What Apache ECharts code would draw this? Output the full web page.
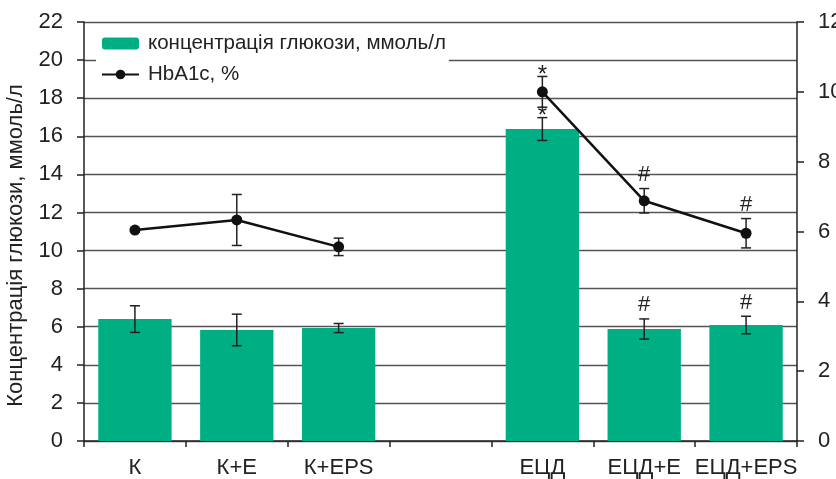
<!DOCTYPE html>
<html><head><meta charset="utf-8">
<script src="https://cdn.jsdelivr.net/npm/echarts@6/dist/echarts.min.js"></script>
<style>html,body{margin:0;padding:0;background:#fff}#c{width:836px;height:479px}</style>
</head><body><div id="c"></div>
<script>
const categories = ['К', 'К+Е', 'К+EPS', '', 'ЕЦД', 'ЕЦД+Е', 'ЕЦД+EPS'];
const glucose = [6.4, 5.83, 5.93, null, 16.38, 5.88, 6.09];
const glucoseErr = [0.7, 0.83, 0.24, null, 0.6, 0.53, 0.46];
const hba1c = [6.04, 6.33, 5.56, null, 10.0, 6.88, 5.95];
const hba1cErr = [0.05, 0.73, 0.25, null, 0.44, 0.35, 0.42];
const glucoseMarks = ['', '', '', '', '*', '#', '#'];
const hba1cMarks = ['', '', '', '', '*', '#', '#'];
const leftAxis = { min: 0, max: 22, interval: 2 };
const rightAxis = { min: 0, max: 12, interval: 2 };
const glucoseName = 'концентрація глюкози, ммоль/л';
const hbName = 'HbA1c, %';
const yTitle = 'Концентрація глюкози, ммоль/л';

const FONT = '"Liberation Sans", Arial, sans-serif';
const GREEN = '#00AE84';
const INK = '#222';

function errItems(vals, errs) {
  const out = [];
  vals.forEach((v, i) => { if (v != null) out.push([i, v, errs[i]]); });
  return out;
}
function errRender(cap, marks) {
  return function (params, api) {
    const i = api.value(0), v = api.value(1), e = api.value(2);
    const mark = marks[i];
    const hi = api.coord([i, v + e]);
    const lo = api.coord([i, v - e]);
    const st = { stroke: INK, lineWidth: 1.5 };
    const children = [
      { type: 'line', shape: { x1: hi[0], y1: hi[1], x2: lo[0], y2: lo[1] }, style: st },
      { type: 'line', shape: { x1: hi[0] - cap, y1: hi[1], x2: hi[0] + cap, y2: hi[1] }, style: st },
      { type: 'line', shape: { x1: lo[0] - cap, y1: lo[1], x2: lo[0] + cap, y2: lo[1] }, style: st }
    ];
    if (mark) {
      const big = mark === '*';
      children.push({ type: 'text', style: { text: mark, x: hi[0], y: hi[1] + (big ? 11 : -2.5), align: 'center', verticalAlign: 'bottom', fontSize: big ? 24 : 22, fontFamily: FONT, fill: INK } });
    }
    return { type: 'group', children };
  };
}

const chart = echarts.init(document.getElementById('c'));
chart.setOption({
  animation: false,
  backgroundColor: '#fff',
  grid: { left: 84, right: 39, top: 22, bottom: 38, containLabel: false, outerBoundsMode: 'none' },
  legend: {
    data: [glucoseName, hbName],
    orient: 'vertical', left: 96, top: 27,
    padding: [6, 3, 8, 5], itemGap: 10,
    itemWidth: 37, itemHeight: 12,
    backgroundColor: '#fff',
    textStyle: { fontSize: 20.5, fontFamily: FONT, color: INK, padding: [0, 0, 0, 4] }
  },
  xAxis: {
    type: 'category', data: categories,
    axisLine: { lineStyle: { color: INK, width: 1.5 } },
    axisTick: { show: true, length: 6, lineStyle: { color: INK, width: 1.5 } },
    axisLabel: { interval: 0, fontSize: 22, fontFamily: FONT, color: INK, margin: 16 }
  },
  yAxis: [
    {
      type: 'value', min: leftAxis.min, max: leftAxis.max, interval: leftAxis.interval,
      name: yTitle, nameLocation: 'middle', nameGap: 57,
      nameTextStyle: { fontSize: 22, fontFamily: FONT, color: INK, padding: [0, 28, 0, 0] },
      axisLine: { show: true, lineStyle: { color: INK, width: 1.5 } },
      axisTick: { show: true, length: 7, lineStyle: { color: INK, width: 1.5 } },
      axisLabel: { fontSize: 22, fontFamily: FONT, color: INK, margin: 21 },
      splitLine: { show: true, lineStyle: { color: '#555', width: 1.3 } }
    },
    {
      type: 'value', min: rightAxis.min, max: rightAxis.max, interval: rightAxis.interval,
      position: 'right',
      axisLine: { show: true, lineStyle: { color: INK, width: 1.5 } },
      axisTick: { show: true, length: 7, lineStyle: { color: INK, width: 1.5 } },
      axisLabel: { fontSize: 22, fontFamily: FONT, color: INK, margin: 21 },
      splitLine: { show: false }
    }
  ],
  series: [
    {
      name: glucoseName, type: 'bar', yAxisIndex: 0,
      data: glucose.map(v => v == null ? '-' : v),
      barWidth: '72%', itemStyle: { color: GREEN }, z: 2
    },
    {
      name: 'gErr', type: 'custom', yAxisIndex: 0, z: 3,
      data: errItems(glucose, glucoseErr),
      encode: { x: 0, y: 1 },
      renderItem: errRender(5, glucoseMarks)
    },
    {
      name: 'hErr', type: 'custom', yAxisIndex: 1, z: 4,
      data: errItems(hba1c, hba1cErr),
      encode: { x: 0, y: 1 },
      renderItem: errRender(5, hba1cMarks)
    },
    {
      name: hbName, type: 'line', yAxisIndex: 1, z: 5,
      data: hba1c.map(v => v == null ? '-' : v),
      symbol: 'circle', symbolSize: 11,
      lineStyle: { color: '#111', width: 2.5 },
      itemStyle: { color: '#111' }
    }
  ]
});
</script></body></html>
